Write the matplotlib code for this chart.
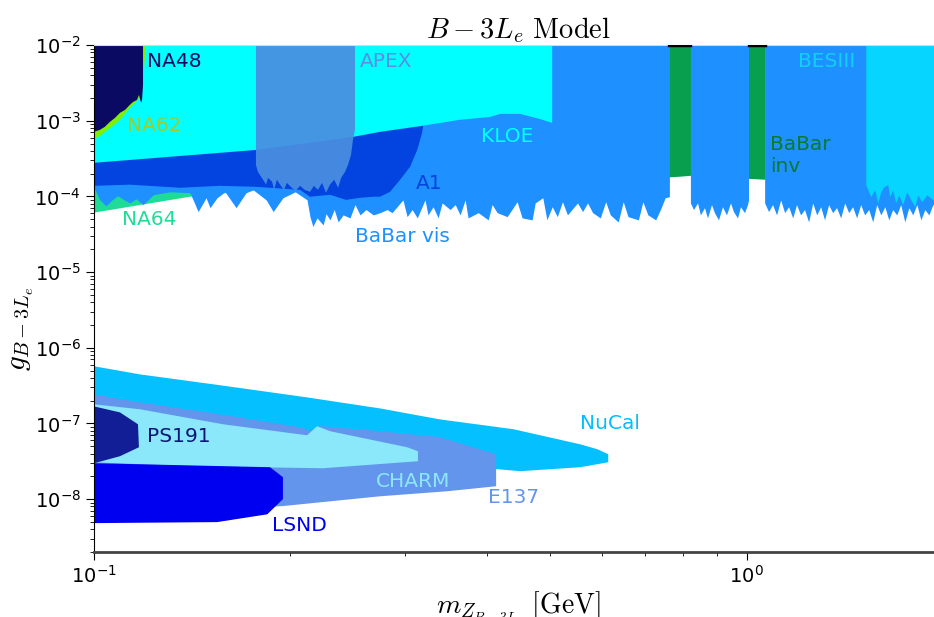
import matplotlib

matplotlib.use("Agg")
import matplotlib.pyplot as plt
from matplotlib.ticker import NullFormatter

# ---- exclusion regions (mass in GeV, coupling) ----
g_top = 1e-2
y_ticks = [1e-8, 1e-7, 1e-6, 1e-5, 1e-4, 1e-3, 1e-2]

babar_inv_m = [0.74, 0.74, 0.79, 0.8204, 0.95, 1.07, 1.07]
babar_inv_g = [1e-2, 1.76e-4, 1.82e-4, 1.87e-4, 1.75e-4, 1.66e-4, 1e-2]

na64_m = [0.100, 0.100, 0.1403, 0.2069, 0.2069]
na64_g = [1.93e-4, 6.1e-5, 9.9e-5, 1.38e-4, 1.93e-4]

babar_vis_m1 = [
    0.1000, 0.1021, 0.1043, 0.1066, 0.1088, 0.1112, 0.1135, 0.1160, 0.1189,
    0.1210, 0.1232, 0.1308, 0.1403, 0.1429, 0.1444, 0.1470, 0.1485, 0.1506,
    0.1544, 0.1588, 0.1651, 0.1711, 0.1754, 0.1836, 0.1882, 0.1948, 0.2034,
    0.2121, 0.2143, 0.2165, 0.2197, 0.2245, 0.2268, 0.2300, 0.2334, 0.2367,
    0.2409, 0.2468, 0.2512, 0.2557, 0.2612, 0.2679, 0.2744, 0.2813, 0.2863,
    0.2975, 0.3019, 0.3073, 0.3129, 0.3216, 0.3250, 0.3309, 0.3368, 0.3416,
    0.3514, 0.3577, 0.3640, 0.3705, 0.3744, 0.3880, 0.4019, 0.4075, 0.4148,
    0.4297, 0.4451, 0.4530, 0.4693, 0.4744, 0.4873, 0.4944, 0.5038, 0.5129,
    0.5223, 0.5316, 0.5508, 0.5607, 0.5707, 0.5809, 0.5969, 0.6084, 0.6184,
    0.6359, 0.6472, 0.6583, 0.6828, 0.6937, 0.7060, 0.7258, 0.7379, 0.7505,
    0.7617,
]
babar_vis_g1 = [
    1.30e-4, 9.0e-5, 7.5e-5, 9.0e-5, 1.02e-4, 9.0e-5, 8.2e-5, 9.3e-5, 7.8e-5,
    9.0e-5, 1.05e-4, 1.15e-4, 1.12e-4, 7.8e-5, 6.3e-5, 8.2e-5, 9.6e-5, 7.1e-5,
    9.6e-5, 1.15e-4, 7.1e-5, 1.12e-4, 1.22e-4, 9.0e-5, 6.3e-5, 9.6e-5, 1.15e-4,
    9.0e-5, 5.4e-5, 4.0e-5, 5.2e-5, 4.2e-5, 5.9e-5, 4.9e-5, 6.7e-5, 4.6e-5,
    5.7e-5, 5.2e-5, 7.8e-5, 5.7e-5, 6.7e-5, 5.7e-5, 6.1e-5, 6.7e-5, 6.1e-5,
    9.0e-5, 5.4e-5, 6.7e-5, 5.2e-5, 9.0e-5, 5.7e-5, 7.3e-5, 5.2e-5, 8.2e-5,
    6.7e-5, 7.8e-5, 5.7e-5, 9.0e-5, 5.2e-5, 6.1e-5, 4.9e-5, 7.8e-5, 6.1e-5,
    5.4e-5, 8.5e-5, 5.2e-5, 4.9e-5, 8.2e-5, 9.6e-5, 4.9e-5, 7.3e-5, 5.4e-5,
    8.5e-5, 5.7e-5, 8.2e-5, 6.3e-5, 8.2e-5, 6.1e-5, 5.2e-5, 8.5e-5, 5.7e-5,
    4.6e-5, 8.5e-5, 5.4e-5, 4.9e-5, 8.5e-5, 5.7e-5, 4.9e-5, 6.7e-5, 9.6e-5,
    9.9e-5,
]
babar_vis_m2 = [
    0.8204, 0.8293, 0.8412, 0.8499, 0.8621, 0.8713, 0.8837, 0.8930, 0.9057,
    0.9186, 0.9317, 0.9449, 0.9550, 0.9686, 0.9789, 0.9928, 1.0035, 1.0071,
]
babar_vis_g2 = [
    8.2e-5, 6.7e-5, 8.2e-5, 5.7e-5, 7.1e-5, 5.2e-5, 7.8e-5, 6.1e-5, 4.9e-5,
    7.3e-5, 5.7e-5, 8.2e-5, 6.3e-5, 5.2e-5, 7.3e-5, 6.1e-5, 7.8e-5, 9.0e-5,
]
babar_vis_m3 = [
    1.066, 1.081, 1.096, 1.112, 1.128, 1.144, 1.160, 1.177, 1.193, 1.210,
    1.227, 1.245, 1.263, 1.281, 1.299, 1.317, 1.336, 1.355, 1.374, 1.394,
    1.414, 1.434, 1.454, 1.475, 1.496, 1.517, 1.539, 1.561, 1.583, 1.606,
    1.629, 1.652, 1.675, 1.699, 1.723, 1.748, 1.773, 1.798, 1.824, 1.850,
    1.876, 1.903, 1.930, 2.0,
]
babar_vis_g3 = [
    8.2e-5, 6.3e-5, 7.8e-5, 5.7e-5, 9.0e-5, 6.1e-5, 7.3e-5, 5.2e-5, 7.8e-5, 5.7e-5,
    6.7e-5, 4.6e-5, 8.2e-5, 5.7e-5, 7.3e-5, 4.9e-5, 7.8e-5, 6.1e-5, 7.1e-5, 5.2e-5,
    8.2e-5, 6.1e-5, 7.3e-5, 5.2e-5, 7.8e-5, 5.7e-5, 6.7e-5, 4.6e-5, 7.8e-5, 5.7e-5,
    7.3e-5, 4.9e-5, 6.7e-5, 5.7e-5, 7.8e-5, 4.6e-5, 7.1e-5, 5.7e-5, 7.8e-5, 4.9e-5,
    6.7e-5, 5.7e-5, 7.8e-5, 6.7e-5,
]

a1_m = [
    0.100, 0.100, 0.1135, 0.1355, 0.156, 0.1771, 0.2069, 0.2143, 0.2300,
    0.2435, 0.2557, 0.2679, 0.2744, 0.2843, 0.2945, 0.3051, 0.3129, 0.3183,
    0.3195, 0.3195,
]
a1_g = [
    1.39e-3, 1.38e-4, 1.43e-4, 1.30e-4, 1.38e-4, 1.34e-4, 1.22e-4, 9.9e-5, 1.05e-4,
    9.0e-5, 9.6e-5, 9.9e-5, 9.9e-5, 1.15e-4, 1.66e-4, 2.46e-4, 4.12e-4, 6.9e-4,
    8.5e-4, 1.39e-3,
]

kloe_m = [0.100, 0.100, 0.1778, 0.2496, 0.2744, 0.3183, 0.3640, 0.4047,
          0.4193, 0.4499, 0.4829, 0.5038, 0.5038]
kloe_g = [1e-2, 2.78e-4, 4.12e-4, 6.12e-4, 7.13e-4, 8.55e-4, 1.03e-3, 1.12e-3,
          1.23e-3, 1.23e-3, 1.05e-3, 9.36e-4, 1e-2]

apex_m = [
    0.1771, 0.1771, 0.1783, 0.1808, 0.1836, 0.1848, 0.1875, 0.1888, 0.1907,
    0.1934, 0.1955, 0.1975, 0.2010, 0.2038, 0.2069, 0.2104, 0.2143, 0.2173,
    0.2204, 0.2236, 0.2268, 0.2300, 0.2334, 0.2367, 0.2392, 0.2426, 0.2451,
    0.2477, 0.2494, 0.2512, 0.2512,
]
apex_g = [
    1e-2, 2.62e-4, 2.12e-4, 1.76e-4, 1.43e-4, 1.76e-4, 1.56e-4, 1.22e-4, 1.66e-4,
    1.38e-4, 1.22e-4, 1.51e-4, 1.30e-4, 1.19e-4, 1.38e-4, 1.22e-4, 1.15e-4, 1.38e-4,
    1.22e-4, 1.51e-4, 1.12e-4, 1.43e-4, 1.66e-4, 1.30e-4, 1.76e-4, 2.12e-4, 2.62e-4,
    3.54e-4, 5.59e-4, 7.57e-4, 1e-2,
]

na62_m = [0.100, 0.100, 0.1021, 0.1058, 0.1088, 0.1112, 0.1135, 0.1156,
          0.1176, 0.1185, 0.1193, 0.1201]
na62_g = [1e-2, 5.75e-4, 6.31e-4, 8.04e-4, 9.66e-4, 1.19e-3, 1.48e-3, 1.72e-3,
          2.06e-3, 2.55e-3, 4.68e-3, 1e-2]

na48_m = [0.100, 0.100, 0.1021, 0.1039, 0.1058, 0.1077, 0.1096, 0.1116,
          0.1135, 0.1148, 0.1164, 0.1172, 0.1181, 0.1185, 0.1189, 0.1189]
na48_g = [1e-2, 7.13e-4, 7.57e-4, 8.30e-4, 9.66e-4, 1.09e-3, 1.27e-3, 1.39e-3,
          1.62e-3, 1.77e-3, 1.88e-3, 2.19e-3, 1.72e-3, 1.88e-3, 2.97e-3, 1e-2]

besiii_m = [1.523, 1.550, 1.572, 1.589, 1.606, 1.623, 1.646, 1.658, 1.675,
            1.693, 1.711, 1.735, 1.760, 1.786, 1.811, 1.830, 1.856, 1.890,
            1.930, 2.0]
besiii_g = [1.43e-4, 9.9e-5, 1.22e-4, 8.2e-5, 1.15e-4, 1.34e-4, 1.43e-4, 9.9e-5,
            1.22e-4, 8.2e-5, 1.05e-4, 7.8e-5, 1.15e-4, 9.0e-5, 7.3e-5, 1.05e-4,
            8.5e-5, 1.05e-4, 9.0e-5, 9.6e-5]

nucal_m = [0.100, 0.1176, 0.156, 0.2121, 0.2744, 0.3392, 0.4391, 0.5562,
           0.591, 0.6139, 0.6139, 0.5562, 0.4499, 0.4148, 0.30, 0.20, 0.100]
nucal_g = [5.7e-7, 4.45e-7, 3.2e-7, 2.21e-7, 1.58e-7, 1.13e-7, 8.4e-8, 5.3e-8,
           4.56e-8, 3.92e-8, 3.07e-8, 2.64e-8, 2.34e-8, 2.49e-8, 2.6e-8, 2.8e-8,
           3.0e-8]

e137_m = [0.100, 0.1176, 0.156, 0.2069, 0.2143, 0.2220, 0.2744, 0.3392,
          0.4133, 0.4133, 0.3476, 0.2744, 0.1948, 0.1454, 0.100]
e137_g = [2.42e-7, 1.90e-7, 1.32e-7, 8.9e-8, 8.0e-8, 9.2e-8, 7.9e-8, 6.57e-8,
          3.92e-8, 1.48e-8, 1.27e-8, 1.09e-8, 8.1e-9, 7.2e-9, 6.3e-9]

charm_m = [0.100, 0.1176, 0.1577, 0.2121, 0.2197, 0.2300, 0.3019, 0.3137,
           0.3137, 0.2245, 0.1403, 0.100]
charm_g = [1.79e-7, 1.54e-7, 9.75e-8, 6.98e-8, 9.2e-8, 7.9e-8, 4.85e-8, 4.29e-8,
           3.17e-8, 2.56e-8, 2.72e-8, 3.07e-8]

ps191_m = [0.100, 0.1096, 0.1168, 0.1172, 0.1096, 0.100]
ps191_g = [1.68e-7, 1.40e-7, 9.75e-8, 4.85e-8, 3.69e-8, 2.98e-8]

lsnd_m = [0.100, 0.1861, 0.1948, 0.1948, 0.1843, 0.1544, 0.100]
lsnd_g = [2.98e-8, 2.64e-8, 1.95e-8, 1.0e-8, 6.3e-9, 4.97e-9, 4.82e-9]

# label text, position (mass, coupling) and colour
labels = [
    ("NA48", 0.1206, 6.15e-3, "#0a0a62"),
    ("APEX", 0.2557, 6.15e-3, "#5b8ee6"),
    ("BESIII", 1.201, 6.15e-3, "#10d0f8"),
    ("NA62", 0.1124, 8.55e-4, "#9acd32"),
    ("KLOE", 0.3921, 6.12e-4, "#00ffff"),
    ("BaBar\ninv", 1.088, 3.49e-4, "#0b7a2e"),
    ("A1", 0.3117, 1.47e-4, "#0343df"),
    ("NA64", 0.1104, 4.9e-5, "#20dc96"),
    ("BaBar vis", 0.2512, 2.94e-5, "#1e90ff"),
    ("NuCal", 0.5547, 1.0e-7, "#00bfff"),
    ("PS191", 0.1206, 6.77e-8, "#0b1575"),
    ("CHARM", 0.2705, 1.73e-8, "#8ae8fa"),
    ("E137", 0.4019, 1.06e-8, "#6495ed"),
    ("LSND", 0.1875, 4.54e-9, "#0000f0"),
]

fig = plt.figure(figsize=(9.34, 6.17), dpi=100)
ax = fig.add_axes([0.1006, 0.1053, 0.909, 0.8217])
ax.set_xscale("log")
ax.set_yscale("log")

ax.fill(babar_inv_m, babar_inv_g, color="#08a04e", lw=0)
ax.fill(na64_m, na64_g, color="#1edc96", lw=0)
for m, g in [(babar_vis_m1, babar_vis_g1), (babar_vis_m2, babar_vis_g2),
             (babar_vis_m3, babar_vis_g3)]:
    ax.fill_between(m, g, g_top, color="#1e90ff", lw=0)
# thin dark edge where the BaBar inv band meets the top of the frame
for m_lo, m_hi in [(babar_vis_m1[-1], babar_vis_m2[0]),
                   (babar_vis_m2[-1], babar_vis_m3[0])]:
    ax.plot([m_lo, m_hi], [g_top, g_top], color="black", lw=2.5, zorder=3)
ax.fill(a1_m, a1_g, color="#0343df", lw=0)
ax.fill(kloe_m, kloe_g, color="#00ffff", lw=0)
ax.fill(apex_m, apex_g, color="#4a8ee0", alpha=0.93, lw=0)
ax.fill(na62_m, na62_g, color="#80f000", lw=0)
ax.fill(na48_m, na48_g, color="#0a0a62", lw=0)
ax.fill_between(besiii_m, besiii_g, g_top, color="#05d5ff", lw=0)

ax.fill(nucal_m, nucal_g, color="#05c0ff", lw=0)
ax.fill(e137_m, e137_g, color="#6495ed", lw=0)
ax.fill(charm_m, charm_g, color="#8ae8fa", lw=0)
ax.fill(ps191_m, ps191_g, color="#121e96", lw=0)
ax.fill(lsnd_m, lsnd_g, color="#0000f0", lw=0)

for text, m, g, color in labels:
    ax.text(m, g, text, color=color, fontsize=14.5, ha="left", va="center")

ax.set_xlim(0.1, 2.0)
ax.set_ylim(2e-9, 1e-2)
ax.set_yticks(y_ticks)
ax.xaxis.set_minor_formatter(NullFormatter())
ax.yaxis.set_minor_formatter(NullFormatter())
ax.tick_params(axis="both", which="major", labelsize=14, length=6)
ax.tick_params(axis="both", which="minor", length=3)

ax.spines["bottom"].set_color("#444444")
ax.spines["bottom"].set_linewidth(2)
ax.spines["top"].set_color("#d8d8d8")
ax.spines["right"].set_visible(False)

ax.set_title(r"$B-3L_e\ \mathrm{Model}$", fontsize=20.5, math_fontfamily="cm", pad=5)
ax.set_ylabel(r"$g_{B-3L_e}$", fontsize=21, math_fontfamily="cm")
ax.yaxis.set_label_coords(-0.068, 0.44)
ax.set_xlabel(r"$m_{Z_{B-3L_e}}\ [\mathrm{GeV}]$", fontsize=20,
              math_fontfamily="cm", labelpad=2)

fig.savefig("out.png", dpi=100)
